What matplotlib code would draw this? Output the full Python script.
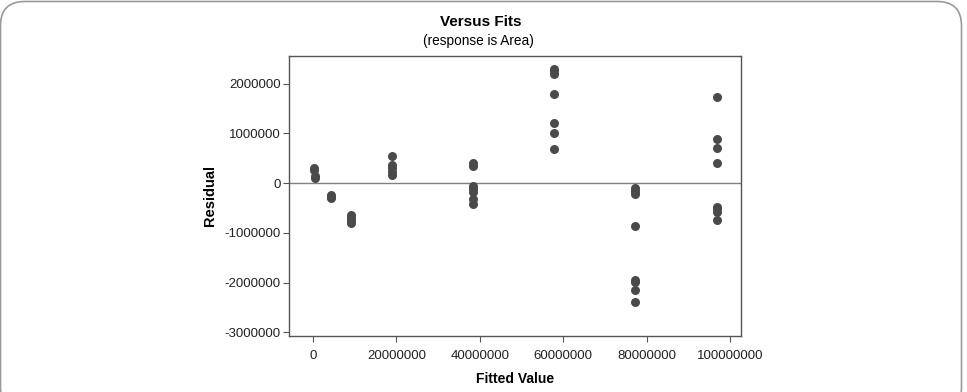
import matplotlib
matplotlib.use("Agg")
import matplotlib.pyplot as plt
from matplotlib.patches import FancyBboxPatch
import numpy as np

plt.rcParams['font.family'] = ['Liberation Sans', 'DejaVu Sans']

# Fitted values and residuals
fitted = [0.2e6, 0.2e6, 0.5e6, 0.5e6,
          4.3e6, 4.3e6, 4.3e6,
          9.0e6, 9.0e6, 9.0e6, 9.0e6,
          19.0e6, 19.0e6, 19.0e6, 19.0e6, 19.0e6,
          38.3e6, 38.3e6, 38.3e6, 38.3e6, 38.3e6, 38.3e6, 38.3e6,
          57.8e6, 57.8e6, 57.8e6, 57.8e6, 57.8e6, 57.8e6, 57.8e6,
          77.2e6, 77.2e6, 77.2e6, 77.2e6, 77.2e6, 77.2e6, 77.2e6, 77.2e6,
          96.8e6, 96.8e6, 96.8e6, 96.8e6, 96.8e6, 96.8e6, 96.8e6, 96.8e6]
residual = [0.30e6, 0.26e6, 0.15e6, 0.10e6,
            -0.25e6, -0.28e6, -0.31e6,
            -0.64e6, -0.69e6, -0.74e6, -0.80e6,
            0.54e6, 0.36e6, 0.30e6, 0.22e6, 0.16e6,
            0.40e6, 0.35e6, -0.06e6, -0.13e6, -0.18e6, -0.33e6, -0.43e6,
            2.30e6, 2.26e6, 2.20e6, 1.79e6, 1.21e6, 1.01e6, 0.68e6,
            -0.11e6, -0.16e6, -0.22e6, -0.86e6, -1.94e6, -1.99e6, -2.15e6, -2.40e6,
            1.72e6, 0.88e6, 0.71e6, 0.40e6, -0.48e6, -0.53e6, -0.58e6, -0.74e6]

xticks = [0, 20000000, 40000000, 60000000, 80000000, 100000000]
yticks = [-3000000, -2000000, -1000000, 0, 1000000, 2000000]

fig = plt.figure(figsize=(9.67, 3.92), dpi=100)
fig.patch.set_facecolor('white')

# rounded outer frame
frame = FancyBboxPatch((0.5/967, -0.05), 961/967, 1.05 - 1.5/392,
                       boxstyle="round,pad=0,rounding_size=0.025",
                       transform=fig.transFigure, facecolor='none',
                       edgecolor='#9a9a9a', linewidth=1.2, mutation_aspect=967/392)
fig.patches.append(frame)

ax = fig.add_axes([289/967, 1 - 336/392, (741 - 289)/967, (336 - 56)/392])
ax.scatter(fitted, residual, s=42, color='#4a4a4a', zorder=3, linewidths=0)
ax.axhline(0, color='#808080', linewidth=1.0, zorder=2)

ax.set_xlim(-5.76e6, 102.6e6)
ax.set_ylim(-3.075e6, 2.553e6)
ax.set_xticks(xticks)
ax.set_xticklabels([str(v) for v in xticks])
ax.set_yticks(yticks)
ax.set_yticklabels([str(v) for v in yticks])
ax.tick_params(direction='out', length=4, width=0.8, colors='#555555',
               labelsize=9.5, labelcolor='#222222')
ax.tick_params(axis='x', pad=6)
ax.tick_params(axis='y', pad=2)
for s in ax.spines.values():
    s.set_color('#555555')
    s.set_linewidth(1.0)

ax.set_xlabel('Fitted Value', fontsize=10, fontweight='bold', labelpad=7)
ax.set_ylabel('Residual', fontsize=10.5, fontweight='bold', labelpad=5)

fig.text(481/967, 1 - 22/392, 'Versus Fits', ha='center', va='center',
         fontsize=11, fontweight='bold')
fig.text(478/967, 1 - 41/392, '(response is Area)', ha='center', va='center',
         fontsize=9.8)

fig.savefig('out.png', dpi=100, facecolor='white')
